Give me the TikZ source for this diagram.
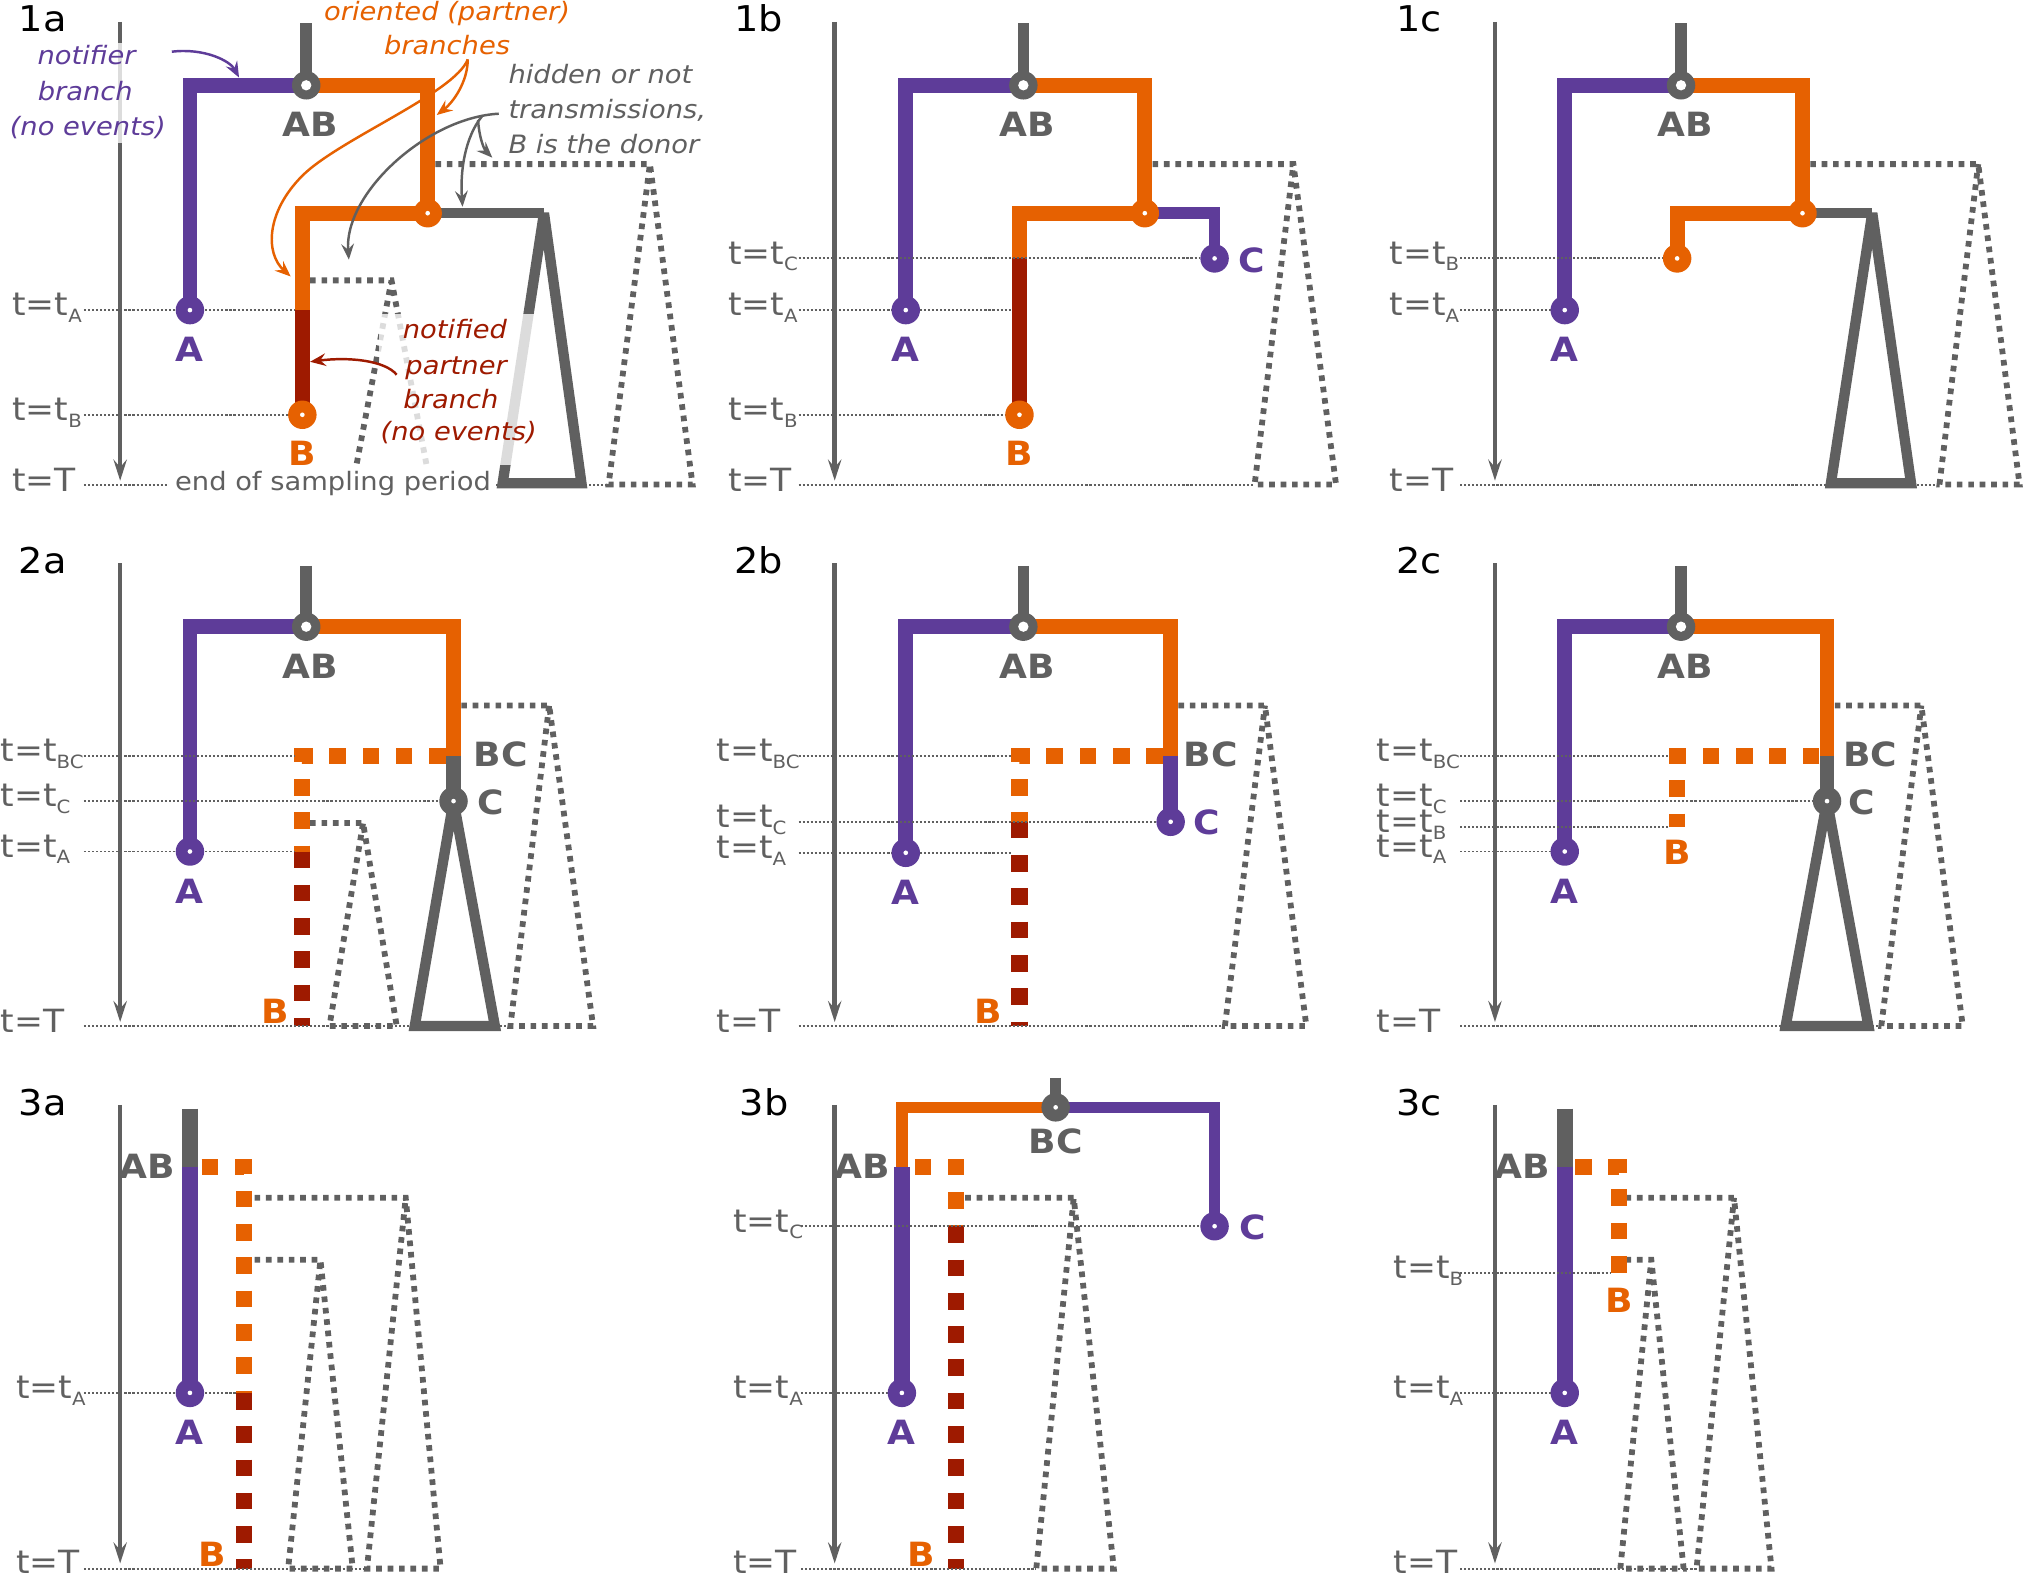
\documentclass[tikz,border=0pt]{standalone}
\usepackage{fontspec}
\setmainfont{DejaVu Sans}[FakeStretch=1.08]
\usetikzlibrary{arrows.meta}
\pgfdeclarelayer{bg}
\pgfdeclarelayer{mid}
\pgfsetlayers{bg,mid,main}
\definecolor{cP}{HTML}{5E3C99}
\definecolor{cO}{HTML}{E66101}
\definecolor{cR}{HTML}{9E1A00}
\definecolor{cG}{HTML}{606060}
\newcommand\mysub[1]{\raisebox{-1.85pt}{\fontsize{5.2pt}{6pt}\selectfont #1}}
\tikzset{
  br/.style={line width=4.23pt},
  brthin/.style={line width=3.3pt},
  brwide/.style={line width=4.6pt},
  stemline/.style={draw=cG, line width=3.3pt},
  dsh/.style={line width=4.6pt, dash pattern=on 4.74pt off 4.74pt},
  tri/.style={draw=cG, line width=2.94pt, miter limit=4},
  hid/.style={draw=cG, line width=1.65pt, dash pattern=on 1.6pt off 1.65pt, miter limit=4},
  guide/.style={draw=cG, line width=0.55pt, dash pattern=on 0.6pt off 0.55pt},
  tarrow/.style={draw=cG, line width=1.3pt, -{Stealth[length=6pt,width=3.8pt,inset=2.2pt]}},
  aarrow/.style={line width=0.7pt, -{Stealth[length=4.5pt,width=3.6pt,inset=1.6pt]}},
  tnode/.style={circle, inner sep=0pt, minimum size=8.1pt},
  bighole/.style={tnode, path picture={\fill[white] (path picture bounding box.center) circle (1.47pt);}},
  smallhole/.style={tnode, path picture={\fill[white] (path picture bounding box.center) circle (0.66pt);}},
  tlab/.style={anchor=base west, inner sep=0pt, text=cG, font=\fontsize{9.1pt}{10pt}\selectfont},
  blab/.style={anchor=base, inner sep=0pt, font=\fontsize{9.5pt}{10pt}\selectfont\bfseries},
  plab/.style={anchor=base west, inner sep=0pt, font=\fontsize{10.1pt}{11pt}\selectfont},
  ann/.style={anchor=base, inner sep=0pt, font=\fontsize{7.2pt}{9.8pt}\selectfont\itshape},
}
\begin{document}
\begin{tikzpicture}[x=0.01292cm, y=-0.01292cm]
\useasboundingbox (0,0) rectangle (1568,1219);
\begin{pgfonlayer}{bg}
\fill[white] (0,0) rectangle (1568,1219);
\end{pgfonlayer}

% ---------------- time arrows and panel labels ----------------
\foreach \x in {93,646,1157} \foreach \y in {0,419,838} {
  \draw[tarrow] (\x,17+\y) -- (\x,372+\y);
}
\node[plab] (p1a) at (14,24.5) {1a};
\node[plab] (p1b) at (568,24.5) {1b};
\node[plab] (p1c) at (1080,24.5) {1c};
\node[plab] (p2a) at (14,443.5) {2a};
\node[plab] (p2b) at (568,443.5) {2b};
\node[plab] (p2c) at (1080,443.5) {2c};
\node[plab] (p3a) at (14,863) {3a};
\node[plab] (p3b) at (572,863) {3b};
\node[plab] (p3c) at (1080,863) {3c};

% ================= 1a =================
\node[bighole, fill=cG] (AB1a) at (237,66) {};
\node[smallhole, fill=cO] (X1a) at (331,165) {};
\node[smallhole, fill=cP] (A1a) at (147,240) {};
\node[smallhole, fill=cO] (B1a) at (234,321) {};
\coordinate (top1a) at (237,18);
\coordinate (sA1a) at (234,240);
\coordinate (ap1a) at (421,165);
\begin{pgfonlayer}{bg}
\draw[hid] (337,127) -- (503,127) -- (536,375) -- (471,375) -- (503,127);
\draw[hid] (240,217) -- (303,217) -- (333,375) -- (273,375) -- (303,217);
\draw[stemline] (top1a) -- (AB1a.center);
\draw[br,cP] (AB1a.center) -| (A1a.center);
\draw[br,cO] (AB1a.center) -| (X1a.center);
\draw[br,cO] (X1a.center) -| (sA1a);
\draw[br,cR] (sA1a) -- (B1a.center);
\draw[tri] (X1a.center) -- (ap1a);
\draw[tri] (ap1a) -- (450,374) -- (389,374) -- cycle;
\end{pgfonlayer}
\begin{pgfonlayer}{mid}
\draw[guide] (65,240) -- (228,240);
\draw[guide] (65,321) -- (223,321);
\draw[guide] (65,375) -- (471,375);
\end{pgfonlayer}
\node[blab, text=cG] (lAB1a) at (240,106) {AB};
\node[blab, text=cP] (lA1a) at (147,280) {A};
\node[blab, text=cO] (lB1a) at (234,360) {B};
\node[tlab] (tA1a) at (9,244.5) {t=t\mysub{A}};
\node[tlab] (tB1a) at (9,325.5) {t=t\mysub{B}};
\node[tlab] (tT1a) at (9,380) {t=T};

% ================= 1b =================
\node[bighole, fill=cG] (AB1b) at (792,66) {};
\node[smallhole, fill=cO] (X1b) at (886,165) {};
\node[smallhole, fill=cP] (A1b) at (701,240) {};
\node[smallhole, fill=cO] (B1b) at (789,321) {};
\node[smallhole, fill=cP] (C1b) at (940,200) {};
\coordinate (top1b) at (792,18);
\coordinate (sC1b) at (789,200);
\begin{pgfonlayer}{bg}
\draw[hid] (892,127) -- (1001,127) -- (1034,375) -- (971,375) -- (1001,127);
\draw[stemline] (top1b) -- (AB1b.center);
\draw[br,cP] (AB1b.center) -| (A1b.center);
\draw[br,cO] (AB1b.center) -| (X1b.center);
\draw[br,cO] (X1b.center) -| (sC1b);
\draw[br,cR] (sC1b) -- (B1b.center);
\draw[brthin,cP] (X1b.center) -| (C1b.center);
\end{pgfonlayer}
\begin{pgfonlayer}{mid}
\draw[guide] (618,200) -- (929,200);
\draw[guide] (618,240) -- (783,240);
\draw[guide] (618,321) -- (778,321);
\draw[guide] (618,375) -- (971,375);
\end{pgfonlayer}
\node[blab, text=cG] (lAB1b) at (795,106) {AB};
\node[blab, text=cP] (lA1b) at (701,280) {A};
\node[blab, text=cO] (lB1b) at (789,360) {B};
\node[blab, text=cP, anchor=base west] (lC1b) at (958,211) {C};
\node[tlab] (tC1b) at (563,204.5) {t=t\mysub{C}};
\node[tlab] (tA1b) at (563,244.5) {t=t\mysub{A}};
\node[tlab] (tB1b) at (563,325.5) {t=t\mysub{B}};
\node[tlab] (tT1b) at (563,380) {t=T};

% ================= 1c =================
\node[bighole, fill=cG] (AB1c) at (1301,66) {};
\node[smallhole, fill=cO] (X1c) at (1395,165) {};
\node[smallhole, fill=cO] (B1c) at (1298,200) {};
\node[smallhole, fill=cP] (A1c) at (1211,240) {};
\coordinate (top1c) at (1301,18);
\coordinate (ap1c) at (1449,165);
\begin{pgfonlayer}{bg}
\draw[hid] (1401,127) -- (1531,127) -- (1563,375) -- (1501,375) -- (1531,127);
\draw[stemline] (top1c) -- (AB1c.center);
\draw[br,cP] (AB1c.center) -| (A1c.center);
\draw[br,cO] (AB1c.center) -| (X1c.center);
\draw[br,cO] (X1c.center) -| (B1c.center);
\draw[tri] (X1c.center) -- (ap1c);
\draw[tri] (ap1c) -- (1479,374) -- (1417,374) -- cycle;
\end{pgfonlayer}
\begin{pgfonlayer}{mid}
\draw[guide] (1130,200) -- (1287,200);
\draw[guide] (1130,240) -- (1200,240);
\draw[guide] (1130,375) -- (1501,375);
\end{pgfonlayer}
\node[blab, text=cG] (lAB1c) at (1304,106) {AB};
\node[blab, text=cP] (lA1c) at (1211,280) {A};
\node[tlab] (tB1c) at (1075,204.5) {t=t\mysub{B}};
\node[tlab] (tA1c) at (1075,244.5) {t=t\mysub{A}};
\node[tlab] (tT1c) at (1075,380) {t=T};

% ================= 2a =================
\node[bighole, fill=cG] (AB2a) at (237,485) {};
\node[smallhole, fill=cP] (A2a) at (147,659) {};
\node[smallhole, fill=cG] (C2a) at (351,620) {};
\coordinate (top2a) at (237,438);
\coordinate (BC2a) at (351,585);
\begin{pgfonlayer}{bg}
\draw[hid] (357,546) -- (425,546) -- (459,794) -- (395,794) -- (425,546);
\draw[hid] (240,637) -- (281,637) -- (307,794) -- (255,794) -- (281,637);
\draw[stemline] (top2a) -- (AB2a.center);
\draw[br,cP] (AB2a.center) -| (A2a.center);
\draw[br,cO] (AB2a.center) -| (BC2a);
\draw[br,cG] (BC2a) -- (C2a.center);
\draw[dsh,cO] (345,585) -| (234,659);
\draw[dsh,cR] (234,659) -- (234,794);
\draw[tri] (C2a.center) -- (383,794) -- (321,794) -- cycle;
\end{pgfonlayer}
\begin{pgfonlayer}{mid}
\draw[guide] (65,585) -- (228,585);
\draw[guide] (65,620) -- (340,620);
\draw[guide] (65,659) -- (228,659);
\draw[guide] (65,794) -- (395,794);
\end{pgfonlayer}
\node[blab, text=cG] (lAB2a) at (240,525) {AB};
\node[blab, text=cP] (lA2a) at (147,699) {A};
\node[blab, text=cG, anchor=base west] (lBC2a) at (366,593) {BC};
\node[blab, text=cG, anchor=base west] (lC2a) at (369,630) {C};
\node[blab, text=cO] (lB2a) at (213,792) {B};
\node[tlab] (tBC2a) at (0,589.5) {t=t\mysub{BC}};
\node[tlab] (tC2a) at (0,624.5) {t=t\mysub{C}};
\node[tlab] (tA2a) at (0,663.5) {t=t\mysub{A}};
\node[tlab] (tT2a) at (0,799) {t=T};

% ================= 2b =================
\node[bighole, fill=cG] (AB2b) at (792,485) {};
\node[smallhole, fill=cP] (A2b) at (701,660) {};
\node[smallhole, fill=cP] (C2b) at (906,636) {};
\coordinate (top2b) at (792,438);
\coordinate (BC2b) at (906,585);
\begin{pgfonlayer}{bg}
\draw[hid] (912,546) -- (979,546) -- (1011,794) -- (948,794) -- (979,546);
\draw[stemline] (top2b) -- (AB2b.center);
\draw[br,cP] (AB2b.center) -| (A2b.center);
\draw[br,cO] (AB2b.center) -| (BC2b);
\draw[br,cP] (BC2b) -- (C2b.center);
\draw[dsh,cO] (900,585) -| (789,636);
\draw[dsh,cR] (789,636) -- (789,794);
\end{pgfonlayer}
\begin{pgfonlayer}{mid}
\draw[guide] (618,585) -- (783,585);
\draw[guide] (618,636) -- (895,636);
\draw[guide] (618,660) -- (783,660);
\draw[guide] (618,794) -- (948,794);
\end{pgfonlayer}
\node[blab, text=cG] (lAB2b) at (795,525) {AB};
\node[blab, text=cP] (lA2b) at (701,700) {A};
\node[blab, text=cG] (lBC2b) at (937,593) {BC};
\node[blab, text=cP, anchor=base west] (lC2b) at (923,646) {C};
\node[blab, text=cO] (lB2b) at (765,792) {B};
\node[tlab] (tBC2b) at (554,589.5) {t=t\mysub{BC}};
\node[tlab] (tC2b) at (554,640.5) {t=t\mysub{C}};
\node[tlab] (tA2b) at (554,664.5) {t=t\mysub{A}};
\node[tlab] (tT2b) at (554,799) {t=T};

% ================= 2c =================
\node[bighole, fill=cG] (AB2c) at (1301,485) {};
\node[smallhole, fill=cP] (A2c) at (1211,659) {};
\node[smallhole, fill=cG] (C2c) at (1414,620) {};
\coordinate (top2c) at (1301,438);
\coordinate (BC2c) at (1414,585);
\begin{pgfonlayer}{bg}
\draw[hid] (1420,546) -- (1487,546) -- (1519,794) -- (1456,794) -- (1487,546);
\draw[stemline] (top2c) -- (AB2c.center);
\draw[br,cP] (AB2c.center) -| (A2c.center);
\draw[br,cO] (AB2c.center) -| (BC2c);
\draw[br,cG] (BC2c) -- (C2c.center);
\draw[dsh,cO] (1408,585) -| (1298,640);
\draw[tri] (C2c.center) -- (1446,794) -- (1382,794) -- cycle;
\end{pgfonlayer}
\begin{pgfonlayer}{mid}
\draw[guide] (1130,585) -- (1292,585);
\draw[guide] (1130,620) -- (1403,620);
\draw[guide] (1130,640) -- (1292,640);
\draw[guide] (1130,659) -- (1200,659);
\draw[guide] (1130,794) -- (1456,794);
\end{pgfonlayer}
\node[blab, text=cG] (lAB2c) at (1304,525) {AB};
\node[blab, text=cP] (lA2c) at (1211,699) {A};
\node[blab, text=cG, anchor=base west] (lBC2c) at (1426,593) {BC};
\node[blab, text=cG, anchor=base west] (lC2c) at (1430,630) {C};
\node[blab, text=cO] (lB2c) at (1298,669) {B};
\node[tlab] (tBC2c) at (1065,589.5) {t=t\mysub{BC}};
\node[tlab] (tC2c) at (1065,624.5) {t=t\mysub{C}};
\node[tlab] (tB2c) at (1065,644.5) {t=t\mysub{B}};
\node[tlab] (tA2c) at (1065,663.5) {t=t\mysub{A}};
\node[tlab] (tT2c) at (1065,799) {t=T};

% ================= 3a =================
\node[smallhole, fill=cP] (A3a) at (147,1078) {};
\coordinate (top3a) at (147,858);
\coordinate (AB3a) at (147,903);
\begin{pgfonlayer}{bg}
\draw[hid] (197,927) -- (314,927) -- (341,1214) -- (284,1214) -- (314,927);
\draw[hid] (197,975) -- (248,975) -- (273,1214) -- (223,1214) -- (248,975);
\draw[brwide,cG] (top3a) -- (AB3a);
\draw[brwide,cP] (AB3a) -- (A3a.center);
\draw[dsh,cO] (156,903) -| (189,1078);
\draw[dsh,cR] (189,1078) -- (189,1214);
\end{pgfonlayer}
\begin{pgfonlayer}{mid}
\draw[guide] (65,1078) -- (183,1078);
\draw[guide] (65,1214) -- (284,1214);
\end{pgfonlayer}
\node[blab, text=cG, anchor=base east] (lAB3a) at (136,912) {AB};
\node[blab, text=cP] (lA3a) at (147,1118) {A};
\node[blab, text=cO] (lB3a) at (164,1212) {B};
\node[tlab] (tA3a) at (12,1082.5) {t=t\mysub{A}};
\node[tlab] (tT3a) at (12,1217.5) {t=T};

% ================= 3b =================
\node[smallhole, fill=cG] (BC3b) at (817,857) {};
\node[smallhole, fill=cP] (A3b) at (698,1078) {};
\node[smallhole, fill=cP] (C3b) at (940,949) {};
\coordinate (top3b) at (817,834);
\coordinate (AB3b) at (698,903);
\begin{pgfonlayer}{bg}
\draw[hid] (747,927) -- (831,927) -- (862,1214) -- (802,1214) -- (831,927);
\draw[stemline] (top3b) -- (BC3b.center);
\draw[brthin,cO] (BC3b.center) -| (AB3b);
\draw[brwide,cP] (AB3b) -- (A3b.center);
\draw[brthin,cP] (BC3b.center) -| (C3b.center);
\draw[dsh,cO] (708,903) -| (740,949);
\draw[dsh,cR] (740,949) -- (740,1214);
\end{pgfonlayer}
\begin{pgfonlayer}{mid}
\draw[guide] (620,949) -- (929,949);
\draw[guide] (620,1078) -- (687,1078);
\draw[guide] (620,1214) -- (802,1214);
\end{pgfonlayer}
\node[blab, text=cG] (lBC3b) at (817,893) {BC};
\node[blab, text=cG, anchor=base east] (lAB3b) at (689,912) {AB};
\node[blab, text=cP] (lA3b) at (698,1118) {A};
\node[blab, text=cP, anchor=base west] (lC3b) at (959,959.6) {C};
\node[blab, text=cO] (lB3b) at (713,1212) {B};
\node[tlab] (tC3b) at (567,953.5) {t=t\mysub{C}};
\node[tlab] (tA3b) at (567,1082.5) {t=t\mysub{A}};
\node[tlab] (tT3b) at (567,1217.5) {t=T};

% ================= 3c =================
\node[smallhole, fill=cP] (A3c) at (1211,1078) {};
\coordinate (top3c) at (1211,858);
\coordinate (AB3c) at (1211,903);
\begin{pgfonlayer}{bg}
\draw[hid] (1258,927) -- (1342,927) -- (1371,1214) -- (1313,1214) -- (1342,927);
\draw[hid] (1258,975) -- (1278,975) -- (1303,1214) -- (1254,1214) -- (1278,975);
\draw[brwide,cG] (top3c) -- (AB3c);
\draw[brwide,cP] (AB3c) -- (A3c.center);
\draw[dsh,cO] (1219,903) -| (1253,986);
\end{pgfonlayer}
\begin{pgfonlayer}{mid}
\draw[guide] (1130,985) -- (1246,985);
\draw[guide] (1130,1078) -- (1200,1078);
\draw[guide] (1130,1214) -- (1313,1214);
\end{pgfonlayer}
\node[blab, text=cG, anchor=base east] (lAB3c) at (1200,912) {AB};
\node[blab, text=cP] (lA3c) at (1211,1118) {A};
\node[blab, text=cO] (lB3c) at (1253,1016) {B};
\node[tlab] (tB3c) at (1078,989.5) {t=t\mysub{B}};
\node[tlab] (tA3c) at (1078,1082.5) {t=t\mysub{A}};
\node[tlab] (tT3c) at (1078,1217.5) {t=T};

% ================= annotations (1a) =================
\fill[white, opacity=0.78] (3,33) rectangle (131,111);
\node[ann, text=cP] (n1) at (67,50.3) {notifier};
\node[ann, text=cP] (n2) at (66,77.4) {branch};
\node[ann, text=cP] (n3) at (68,104.5) {(no events)};
\node[ann, text=cO] (o1) at (346,16) {oriented (partner)};
\node[ann, text=cO] (o2) at (346,42) {branches};
\node[ann, text=cG, anchor=base west] (h1) at (393,65) {hidden or not};
\node[ann, text=cG, anchor=base west] (h2) at (393,91.6) {transmissions,};
\node[ann, text=cG, anchor=base west] (h3) at (393,118.7) {B is the donor};
\fill[white, opacity=0.78] (293,243) rectangle (413,360);
\node[ann, text=cR] (r1) at (352,261.8) {notified};
\node[ann, text=cR] (r2) at (353,290) {partner};
\node[ann, text=cR] (r3) at (349,316) {branch};
\node[ann, text=cR] (r4) at (355,340.6) {(no events)};
\fill[white] (131,362) rectangle (382,386);
\node[ann, text=cG, anchor=base west, font=\fontsize{7.2pt}{9.8pt}\selectfont\upshape] (e1) at (135,379.3) {end of sampling period};

\coordinate (ps) at (133,40);
\coordinate (pe) at (185,60);
\draw[aarrow,cP] (ps) .. controls (158,37) and (178,47) .. (pe);
\coordinate (os) at (362,46);
\draw[aarrow,cO] (os) .. controls (362,63) and (351,79) .. (338,89);
\draw[aarrow,cO] (os) .. controls (352,72) and (262,108) .. (234,136) .. controls (206,164) and (205,196) .. (225,214);
\coordinate (gs) at (386,88);
\draw[aarrow,cG] (gs) .. controls (330,91) and (266,150) .. (270,201);
\draw[aarrow,cG] (373,90) .. controls (360,106) and (356,132) .. (358,160);
\draw[aarrow,cG] (370,93) .. controls (371,108) and (375,116) .. (381,122);
\draw[aarrow,cR] (307,290) .. controls (298,279) and (270,276) .. (240,280);
\end{tikzpicture}
\end{document}
